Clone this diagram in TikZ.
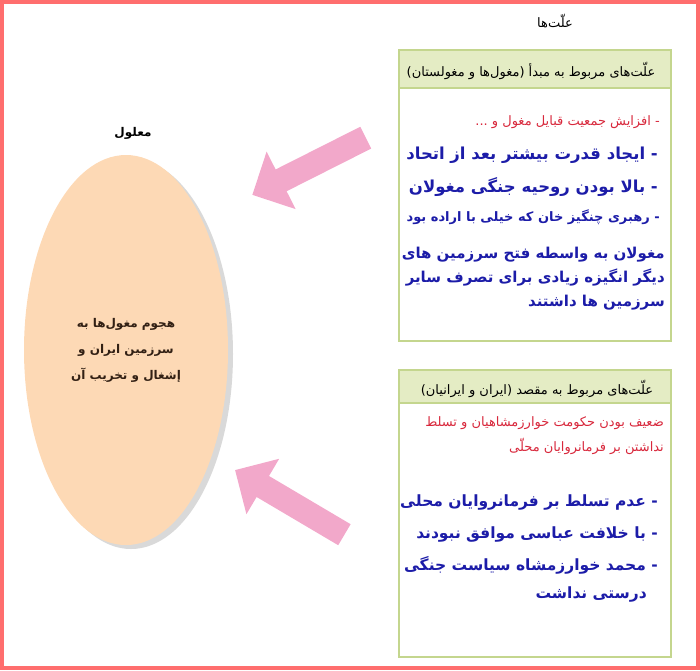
\documentclass[tikz,border=0pt]{standalone}
\usepackage{fontspec}
\usetikzlibrary{shapes.geometric,shapes.arrows}
\newfontfamily\fafont[Script=Arabic]{DejaVu Sans}
\TeXXeTstate=1
\definecolor{framered}{RGB}{255,110,110}
\definecolor{peach}{RGB}{253,217,181}
\definecolor{arrowpink}{RGB}{242,168,202}
\definecolor{headgreen}{RGB}{228,236,196}
\definecolor{boxgreen}{RGB}{196,214,142}
\definecolor{causeblue}{RGB}{28,28,168}
\definecolor{causered}{RGB}{216,40,60}
\definecolor{effectbrown}{RGB}{50,32,20}

\begin{document}
\begin{tikzpicture}[x=1pt, y=-1pt,
   every node/.style={inner sep=0pt, font=\fafont},
   heading/.style={font=\fafont\fontsize{13}{15}\selectfont},
   bigcause/.style={anchor=east, text=causeblue, align=right,
      font=\fafont\bfseries\fontsize{16.5}{24}\selectfont},
   smallcause/.style={anchor=east, text=causered, align=right,
      font=\fafont\fontsize{13}{25}\selectfont},
   causebox/.style={draw=boxgreen, line width=1.5pt},
   pinkarrow/.style={single arrow, fill=arrowpink, inner xsep=0pt, inner ysep=12pt,
      minimum height=127pt, single arrow head extend=20pt,
      midway, sloped, allow upside down}]

\useasboundingbox (0,0) rectangle (700,670);
\draw[framered, line width=4pt] (2,2) rectangle (698,668);

\node[heading] (causes) at (555,21) {\beginR علّت‌ها\endR};
\node[heading, font=\fafont\bfseries\fontsize{12}{14}\selectfont] (effectlabel) at (133,133) {\beginR معلول\endR};

\fill[gray!30] (131,354) ellipse [x radius=102, y radius=195];
\node[ellipse, fill=peach, minimum width=204pt, minimum height=390pt, align=center,
   text=effectbrown, font=\fafont\bfseries\fontsize{12}{26}\selectfont] (effect) at (126,350)
   {\beginR هجوم مغول‌ها به\endR\\ \beginR سرزمین ایران و\endR\\ \beginR إشغال و تخریب آن\endR};

\fill[headgreen] (399,50) rectangle (671,88);
\draw[causebox] (399,50) rectangle (671,341) (399,88) -- (671,88);
\fill[headgreen] (399,370) rectangle (671,403);
\draw[causebox] (399,370) rectangle (671,657) (399,403) -- (671,403);

\node[heading] (origin) at (531,71) {\beginR علّت‌های مربوط به مبدأ (مغول‌ها و مغولستان)\endR};
\node[smallcause] (rise) at (660,122) {\beginR - افزایش جمعیت قبایل مغول و ...\endR};
\node[bigcause] (power) at (658,155) {\beginR - ایجاد قدرت بیشتر بعد از اتحاد\endR};
\node[bigcause] (spirit) at (658,187) {\beginR - بالا بودن روحیه جنگی مغولان\endR};
\node[bigcause, font=\fafont\bfseries\fontsize{13}{16}\selectfont] (leader) at (660,217)
   {\beginR - رهبری چنگیز خان که خیلی با اراده بود\endR};
\node[bigcause, font=\fafont\bfseries\fontsize{15}{24}\selectfont] (conquest) at (665,279)
   {\beginR مغولان به واسطه فتح سرزمین های\endR\\ \beginR دیگر انگیزه زیادی برای تصرف سایر\endR\\ \beginR سرزمین ها داشتند\endR};

\node[heading] (target) at (537,389) {\beginR علّت‌های مربوط به مقصد (ایران و ایرانیان)\endR};
\node[smallcause] (weak) at (664,436)
   {\beginR ضعیف بودن حکومت خوارزمشاهیان و تسلط\endR\\ \beginR نداشتن بر فرمانروایان محلّی\endR};
\node[bigcause, font=\fafont\bfseries\fontsize{15.5}{24}\selectfont] (rulers) at (658,502)
   {\beginR - عدم تسلط بر فرمانروایان محلی\endR};
\node[bigcause, font=\fafont\bfseries\fontsize{15.5}{24}\selectfont] (caliph) at (658,535)
   {\beginR - با خلافت عباسی موافق نبودند\endR};
\node[bigcause, font=\fafont\bfseries\fontsize{15.5}{28}\selectfont] (shah) at (658,579)
   {\beginR - محمد خوارزمشاه سیاست جنگی\endR\\ \beginR درستی نداشت\endR\hspace*{11pt}};

\coordinate (tail1) at (371,135);
\coordinate (tip1) at (258,192);
\coordinate (tail2) at (350,538);
\coordinate (tip2) at (240,473);
\path (tail1) -- (tip1) node[pinkarrow] (arrow1) {};
\path (tail2) -- (tip2) node[pinkarrow] (arrow2) {};

\end{tikzpicture}
\end{document}
